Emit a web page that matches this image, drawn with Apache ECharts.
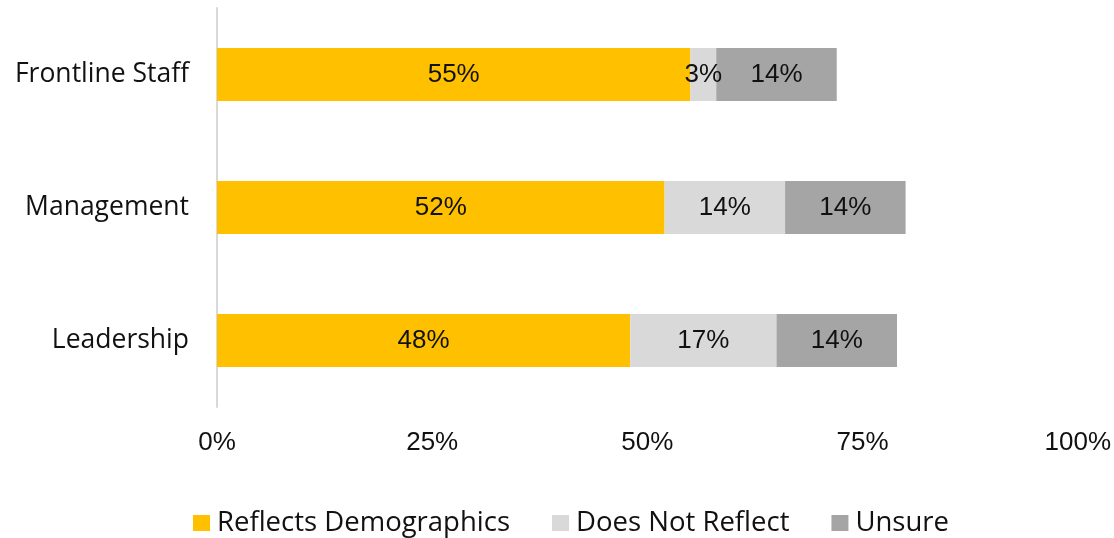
<!DOCTYPE html>
<html>
<head>
<meta charset="utf-8">
<script src="https://cdn.jsdelivr.net/npm/echarts@6/dist/echarts.min.js"></script>
<style>
  html, body { margin: 0; padding: 0; background: #fff; }
  #chart { width: 1114px; height: 538px; }
</style>
</head>
<body>
<div id="chart"></div>
<script>
// Survey groups, top to bottom as drawn
const categories = ['Frontline Staff', 'Management', 'Leadership'];
const seriesNames = ['Reflects Demographics', 'Does Not Reflect', 'Unsure'];
const reflects = [55, 52, 48];
const notReflect = [3, 14, 17];
const unsure = [14, 14, 14];
const colors = ['#FFC000', '#D9D9D9', '#A5A5A5'];

const valueSets = [reflects, notReflect, unsure];

const chart = echarts.init(document.getElementById('chart'), null, { renderer: 'canvas' });

const series = seriesNames.map((name, i) => ({
  name: name,
  type: 'bar',
  stack: 'total',
  barWidth: '40%',
  data: valueSets[i],
  itemStyle: { color: colors[i] },
  label: {
    show: true,
    position: 'inside',
    formatter: p => p.value + '%',
    fontFamily: '"Liberation Sans", Arial, sans-serif',
    fontSize: 26,
    color: '#111'
  }
}));

chart.setOption({
  animation: false,
  color: colors,
  grid: { left: 217, right: 33, top: 8, bottom: 131, containLabel: false },
  legend: {
    top: 504,
    left: 188,
    itemWidth: 17,
    itemHeight: 16,
    itemGap: 42,
    icon: 'rect',
    textStyle: {
      fontFamily: '"Open Sans", "Noto Sans", sans-serif',
      fontSize: 27.5,
      color: '#111',
      padding: [0, 0, 0, 2]
    },
    data: seriesNames
  },
  xAxis: {
    type: 'value',
    min: 0,
    max: 100,
    interval: 25,
    axisLine: { show: false },
    axisTick: { show: false },
    splitLine: { show: false },
    axisLabel: {
      formatter: v => v + '%',
      margin: 23,
      fontFamily: '"Liberation Sans", Arial, sans-serif',
      fontSize: 26,
      color: '#111'
    }
  },
  yAxis: {
    type: 'category',
    inverse: true,
    data: categories,
    axisLine: { show: true, lineStyle: { color: '#D9D9D9', width: 2 } },
    axisTick: { show: false },
    axisLabel: {
      margin: 28,
      fontFamily: '"Open Sans", "Noto Sans", sans-serif',
      fontSize: 26.5,
      color: '#111'
    }
  },
  series: series
});
</script>
</body>
</html>
